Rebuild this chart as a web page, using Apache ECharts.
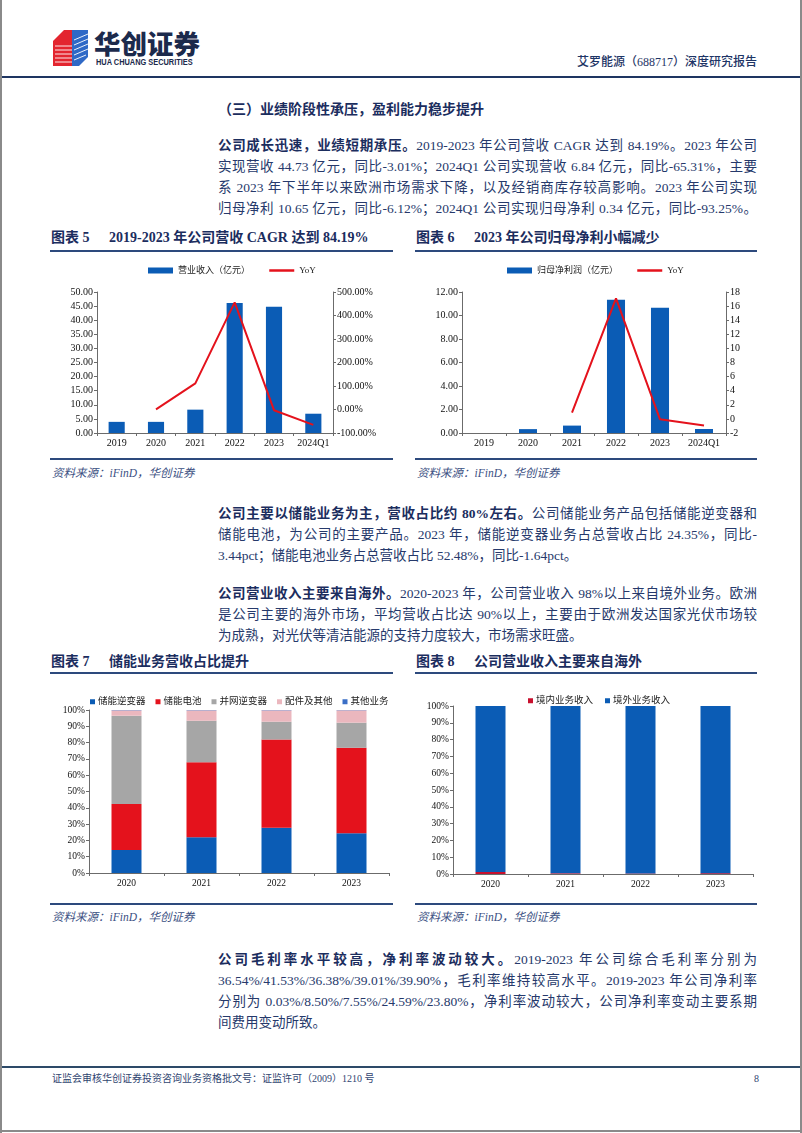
<!DOCTYPE html>
<html><head><meta charset="utf-8">
<script src="https://cdn.jsdelivr.net/npm/echarts@6/dist/echarts.min.js"></script>
<style>
html,body{margin:0;padding:0;}
body{width:802px;height:1133px;position:relative;background:#fff;overflow:hidden;font-family:"Liberation Serif","Noto Sans CJK SC",serif;color:#26396b;}
.a{position:absolute;}
.ln{position:absolute;left:218px;width:539px;font-size:13.5px;line-height:21px;height:21px;white-space:nowrap;text-align:justify;text-align-last:justify;}
.ln.l{text-align-last:left;}
b{font-weight:700;color:#1b2d5e;}
.ft{position:absolute;font-size:14px;font-weight:700;color:#1b2d5e;white-space:nowrap;line-height:16px;}
.ft .n{display:inline-block;width:58px;}
.rule{position:absolute;height:2px;background:#2d4a7d;}
.src{position:absolute;font-size:11.5px;font-style:italic;color:#3b4f82;white-space:nowrap;line-height:14px;}
.chart{position:absolute;}
</style></head>
<body>
<!-- page frame -->
<div class="a" style="left:0;top:0;width:2px;height:1133px;background:#8a8a8a"></div>
<div class="a" style="left:800px;top:0;width:2px;height:1133px;background:#8a8a8a"></div>
<div class="a" style="left:0;top:1130px;width:802px;height:2px;background:#8a8a8a"></div>

<!-- logo -->
<svg class="a" style="left:50px;top:27px" width="42" height="42" viewBox="50 27 42 42">
  <polygon points="53,41 64,30 72,30 72,66 53,66" fill="#e3252f"/>
  <polygon points="72,30 88,30 88,57 79,66 72,66" fill="#2f69c6"/>
  <g stroke="#fff" stroke-width="0.9">
    <line x1="55" y1="46" x2="72" y2="46"/><line x1="55" y1="50" x2="72" y2="50"/>
    <line x1="55" y1="54" x2="72" y2="54"/><line x1="55" y1="58" x2="72" y2="58"/>
    <line x1="55" y1="62" x2="72" y2="62"/>
    <line x1="74" y1="40" x2="88" y2="34"/><line x1="74" y1="45" x2="88" y2="39"/>
    <line x1="74" y1="50" x2="88" y2="44"/><line x1="74" y1="55" x2="88" y2="49"/>
    <line x1="74" y1="60" x2="86" y2="55"/>
  </g>
</svg>
<div class="a" style="left:94px;top:26px;font-family:'Noto Sans CJK SC';font-size:26.5px;font-weight:900;color:#1c2a4c;line-height:34px;letter-spacing:0px">华创证券</div>
<div class="a" style="left:96px;top:57px;font-family:'Liberation Sans';font-size:8.5px;font-weight:700;color:#1c2a4c;line-height:10px;white-space:nowrap;transform:scaleX(0.87);transform-origin:left top">HUA CHUANG SECURITIES</div>
<div class="a" style="left:577px;top:54px;font-size:12px;color:#1e3566;white-space:nowrap;line-height:16px;font-weight:500">艾罗能源（688717）深度研究报告</div>
<div class="a" style="left:2px;top:76px;width:798px;height:2px;background:#1e3561"></div>

<!-- section title & paragraph 1 -->
<div class="a" style="left:218px;top:101px;font-size:14px;font-weight:700;color:#1b2d5e;white-space:nowrap;line-height:18px">（三）业绩阶段性承压，盈利能力稳步提升</div>
<div class="ln" style="top:134.5px"><b>公司成长迅速，业绩短期承压。</b>2019-2023 年公司营收 CAGR 达到 84.19%。2023 年公司</div>
<div class="ln" style="top:155.5px">实现营收 44.73 亿元，同比-3.01%；2024Q1 公司实现营收 6.84 亿元，同比-65.31%，主要</div>
<div class="ln" style="top:176.5px">系 2023 年下半年以来欧洲市场需求下降，以及经销商库存较高影响。2023 年公司实现</div>
<div class="ln" style="top:197.5px">归母净利 10.65 亿元，同比-6.12%；2024Q1 公司实现归母净利 0.34 亿元，同比-93.25%。</div>

<!-- figure titles 5/6 -->
<div class="ft" style="left:51px;top:230px"><span class="n">图表 5</span>2019-2023 年公司营收 CAGR 达到 84.19%</div>
<div class="ft" style="left:416px;top:230px"><span class="n">图表 6</span>2023 年公司归母净利小幅减少</div>
<div class="rule" style="left:50px;top:250px;width:343px"></div>
<div class="rule" style="left:415px;top:250px;width:342px"></div>

<div id="c5" class="chart" style="left:45px;top:255px;width:365px;height:200px"></div>
<div id="c6" class="chart" style="left:415px;top:255px;width:360px;height:200px"></div>

<div class="rule" style="left:50px;top:458px;width:343px"></div>
<div class="rule" style="left:415px;top:458px;width:342px"></div>
<div class="src" style="left:52px;top:466px">资料来源：iFinD，华创证券</div>
<div class="src" style="left:417px;top:466px">资料来源：iFinD，华创证券</div>

<!-- paragraph 2 -->
<div class="ln" style="top:502.5px"><b>公司主要以储能业务为主，营收占比约 80%左右。</b>公司储能业务产品包括储能逆变器和</div>
<div class="ln" style="top:524px">储能电池，为公司的主要产品。2023 年，储能逆变器业务占总营收占比 24.35%，同比-</div>
<div class="ln l" style="top:545px">3.44pct；储能电池业务占总营收占比 52.48%，同比-1.64pct。</div>

<!-- paragraph 3 -->
<div class="ln" style="top:583px"><b>公司营业收入主要来自海外。</b>2020-2023 年，公司营业收入 98%以上来自境外业务。欧洲</div>
<div class="ln" style="top:604px">是公司主要的海外市场，平均营收占比达 90%以上，主要由于欧洲发达国家光伏市场较</div>
<div class="ln l" style="top:625px">为成熟，对光伏等清洁能源的支持力度较大，市场需求旺盛。</div>

<!-- figure titles 7/8 -->
<div class="ft" style="left:51px;top:654px"><span class="n">图表 7</span>储能业务营收占比提升</div>
<div class="ft" style="left:416px;top:654px"><span class="n">图表 8</span>公司营业收入主要来自海外</div>
<div class="rule" style="left:50px;top:672px;width:343px"></div>
<div class="rule" style="left:415px;top:672px;width:342px"></div>

<div id="c7" class="chart" style="left:45px;top:680px;width:365px;height:210px"></div>
<div id="c8" class="chart" style="left:415px;top:680px;width:360px;height:210px"></div>

<div class="rule" style="left:50px;top:903px;width:343px"></div>
<div class="rule" style="left:415px;top:903px;width:342px"></div>
<div class="src" style="left:52px;top:910px">资料来源：iFinD，华创证券</div>
<div class="src" style="left:417px;top:910px">资料来源：iFinD，华创证券</div>

<!-- paragraph 4 -->
<div class="ln" style="top:948.5px"><b>公司毛利率水平较高，净利率波动较大。</b>2019-2023 年公司综合毛利率分别为</div>
<div class="ln" style="top:969.5px">36.54%/41.53%/36.38%/39.01%/39.90%，毛利率维持较高水平。2019-2023 年公司净利率</div>
<div class="ln" style="top:990.5px">分别为 0.03%/8.50%/7.55%/24.59%/23.80%，净利率波动较大，公司净利率变动主要系期</div>
<div class="ln l" style="top:1011.5px">间费用变动所致。</div>

<!-- footer -->
<div class="a" style="left:2px;top:1066px;width:798px;height:2px;background:#2d4a68"></div>
<div class="a" style="left:52px;top:1072px;font-size:10px;color:#2f4470;white-space:nowrap;line-height:14px">证监会审核华创证券投资咨询业务资格批文号：证监许可（2009）1210 号</div>
<div class="a" style="left:754px;top:1072px;font-size:10px;color:#2f4470;line-height:14px">8</div>

<script>
// ---------- data ----------
const years6 = ['2019', '2020', '2021', '2022', '2023', '2024Q1'];
const revenue = [3.95, 3.95, 8.28, 46.1, 44.73, 6.84];
const revenueYoY = [null, 0.5, 111, 456, -3.01, -65.31];
const netProfit = [0.002, 0.33, 0.63, 11.34, 10.65, 0.34];
const netProfitYoY = [null, null, 0.9, 17.1, -0.06, -0.93];

const years4 = ['2020', '2021', '2022', '2023'];
const essInverter = [14.1, 21.9, 27.79, 24.35];
const essBattery = [28.3, 46.1, 54.12, 52.48];
const gridInverter = [54.1, 25.4, 10.9, 15.4];
const partsOther = [3.3, 6.4, 7.0, 7.6];
const otherBiz = [0.2, 0.2, 0.19, 0.17];

const domestic = [1.2, 0.4, 0.3, 0.5];
const overseas = [98.8, 99.6, 99.7, 99.5];

// ---------- styles ----------
const BLUE = '#0b5cb5', RED = '#e4121c', GRAY = '#a6a6a6', PINK = '#ebb7be', BLUE2 = '#3b6fc6', CRIMSON = '#c8102e';
const FONT = '"Liberation Serif","Noto Sans CJK SC",serif';
const AX = '#6b6b6b';
function axisLine(){ return {show:true, lineStyle:{color:AX, width:1}}; }
function tick(){ return {show:true, length:3, lineStyle:{color:AX}}; }

function comboOption(cfg){
  return {
    animation:false,
    textStyle:{fontFamily:FONT},
    legend:{
      left:cfg.legendLeft, top:6, itemGap:18, itemWidth:25, itemHeight:6,
      textStyle:{fontSize:9, color:'#222', fontFamily:FONT},
      data:[{name:cfg.barName, icon:'rect'},
            {name:'YoY', itemStyle:{opacity:0}, lineStyle:{color:RED, width:2.5}}]
    },
    grid:cfg.grid,
    xAxis:{type:'category', data:years6, axisLine:axisLine(), axisTick:tick(),
      axisLabel:{fontSize:10, color:'#111', margin:5, interval:0, fontFamily:FONT}},
    yAxis:[
      {type:'value', min:cfg.l[0], max:cfg.l[1], interval:cfg.l[2], splitLine:{show:false},
       axisLine:axisLine(), axisTick:tick(),
       axisLabel:{fontSize:10, color:'#111', margin:4, fontFamily:FONT, formatter:v=>v.toFixed(2)}},
      {type:'value', min:cfg.r[0], max:cfg.r[1], interval:cfg.r[2], splitLine:{show:false},
       axisLine:axisLine(), axisTick:tick(),
       axisLabel:{fontSize:10, color:'#111', margin:4, fontFamily:FONT, formatter:cfg.rFmt}}
    ],
    series:[
      {name:cfg.barName, type:'bar', data:cfg.bars, barWidth:'41%', itemStyle:{color:BLUE}},
      {name:'YoY', type:'line', yAxisIndex:1, data:cfg.line, symbol:'none', showSymbol:false, connectNulls:false,
       lineStyle:{color:RED, width:2}, itemStyle:{color:RED}}
    ]
  };
}

echarts.init(document.getElementById('c5')).setOption(comboOption({
  barName:'营业收入（亿元）', legendLeft:98,
  grid:{left:52, right:77, top:37, bottom:22},
  l:[0,50,5], r:[-100,500,100], rFmt:v=>v.toFixed(2)+'%',
  bars:revenue, line:revenueYoY
}));

echarts.init(document.getElementById('c6')).setOption(comboOption({
  barName:'归母净利润（亿元）', legendLeft:87,
  grid:{left:47, right:49, top:37, bottom:22},
  l:[0,12,2], r:[-2,18,2], rFmt:v=>String(v),
  bars:netProfit, line:netProfitYoY
}));

function stackSeries(name, data, color){
  return {name, type:'bar', stack:'t', data, barWidth:'40%', itemStyle:{color}};
}
function pctOption(cfg){
  return {
    animation:false,
    textStyle:{fontFamily:FONT},
    legend:{left:cfg.legendLeft, top:cfg.legendTop, itemGap:cfg.gap, itemWidth:5, itemHeight:5, icon:'rect',
      textStyle:{fontSize:9.5, color:'#222', fontFamily:FONT, padding:[0,0,0,-2]}, data:cfg.names},
    grid:cfg.grid,
    xAxis:{type:'category', data:years4, axisLine:axisLine(), axisTick:tick(),
      axisLabel:{fontSize:9.5, color:'#111', margin:6, interval:0, fontFamily:FONT}},
    yAxis:{type:'value', min:0, max:100, interval:10, splitLine:{show:false},
      axisLine:axisLine(), axisTick:tick(),
      axisLabel:{fontSize:9.5, color:'#111', margin:4, fontFamily:FONT, formatter:v=>v+'%'}},
    series:cfg.series
  };
}

echarts.init(document.getElementById('c7')).setOption(pctOption({
  legendLeft:40, legendTop:12, gap:10,
  names:['储能逆变器','储能电池','并网逆变器','配件及其他','其他业务'],
  grid:{left:44, right:21, top:30, bottom:17},
  series:[
    stackSeries('储能逆变器', essInverter, BLUE),
    stackSeries('储能电池', essBattery, RED),
    stackSeries('并网逆变器', gridInverter, GRAY),
    stackSeries('配件及其他', partsOther, PINK),
    stackSeries('其他业务', otherBiz, BLUE2)
  ]
}));

echarts.init(document.getElementById('c8')).setOption(pctOption({
  legendLeft:108, legendTop:11, gap:12,
  names:['境内业务收入','境外业务收入'],
  grid:{left:38, right:22, top:26, bottom:16},
  series:[
    stackSeries('境内业务收入', domestic, CRIMSON),
    stackSeries('境外业务收入', overseas, BLUE)
  ]
}));
</script>
</body></html>
